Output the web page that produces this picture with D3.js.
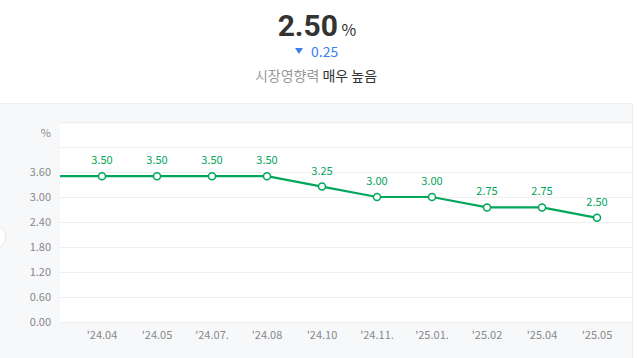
<!DOCTYPE html>
<html>
<head>
<meta charset="utf-8">
<script src="https://cdn.jsdelivr.net/npm/d3@7"></script>
<style>
  body { margin: 0; background: #fff; font-family: "Noto Sans CJK KR", "Noto Sans", sans-serif; }
  svg { display: block; }
</style>
</head>
<body>
<div id="chart"></div>
<script>
// ---- data ----
// first month is scrolled out of view (only its line segment shows)
var months = ["'24.03", "'24.04", "'24.05", "'24.07.", "'24.08", "'24.10", "'24.11.", "'25.01.", "'25.02", "'25.04", "'25.05"];
var rates = [3.50, 3.50, 3.50, 3.50, 3.50, 3.25, 3.00, 3.00, 2.75, 2.75, 2.50];
var yTicks = [0, 0.6, 1.2, 1.8, 2.4, 3.0, 3.6];
var gridTicks = [0, 0.6, 1.2, 1.8, 2.4, 3.0, 3.6, 4.2, 4.8];
var current = "2.50", change = "0.25";

var W = 642, H = 358;
var svg = d3.select("#chart").append("svg").attr("width", W).attr("height", H);

// ---- header ----
var head = svg.append("text").attr("y", 36).attr("text-anchor", "middle").attr("x", 317);
head.append("tspan").text(current)
    .style("font-size", "30px").style("font-weight", "bold").attr("fill", "#333")
    .style("font-family", "Roboto, 'Noto Sans', sans-serif");
head.append("tspan").text(" %").style("font-size", "16px").attr("fill", "#333");

svg.append("path").attr("d", "M295,48 L303,48 L299,54 Z").attr("fill", "#3b7ef0");
svg.append("text").attr("x", 311).attr("y", 57).text(change)
   .style("font-size", "14px").attr("fill", "#3b7ef0");

var sub = svg.append("text").attr("x", 316).attr("y", 81).attr("text-anchor", "middle")
   .style("font-size", "14px");
sub.append("tspan").text("시장영향력 ").attr("fill", "#999");
sub.append("tspan").text("매우 높음").attr("fill", "#333");

// ---- panel ----
svg.append("rect").attr("x", 0).attr("y", 103).attr("width", 632).attr("height", 255)
   .attr("fill", "#f7f8fa");
svg.append("line").attr("x1", 632.5).attr("x2", 632.5).attr("y1", 103).attr("y2", H)
   .attr("stroke", "#eceef1");
svg.append("line").attr("x1", 0).attr("x2", 632).attr("y1", 103.5).attr("y2", 103.5)
   .attr("stroke", "#eceef1");

var m = {left: 60, right: 632, top: 124, bottom: 322};
svg.append("rect").attr("x", m.left).attr("y", m.top)
   .attr("width", m.right - m.left).attr("height", m.bottom - m.top).attr("fill", "#fff");

var y = d3.scaleLinear().domain([0, 4.8]).range([m.bottom, m.top - 2]);
var x = d3.scalePoint().domain(months).range([47, 597]);

svg.append("g").selectAll("line").data(gridTicks).enter().append("line")
   .attr("x1", m.left).attr("x2", m.right)
   .attr("y1", function(d){ return Math.round(y(d)) + 0.5; })
   .attr("y2", function(d){ return Math.round(y(d)) + 0.5; })
   .attr("stroke", "#f0f0f0");

// y axis labels
svg.append("g").selectAll("text").data(yTicks).enter().append("text")
   .attr("x", 51).attr("y", function(d){ return y(d) + 4; })
   .attr("text-anchor", "end").style("font-size", "11px").attr("fill", "#888")
   .text(function(d){ return d3.format(".2f")(d); });
svg.append("text").attr("x", 51).attr("y", 137).attr("text-anchor", "end")
   .style("font-size", "11px").attr("fill", "#888").text("%");

// clip to plot area
svg.append("defs").append("clipPath").attr("id", "plotClip")
   .append("rect").attr("x", m.left).attr("y", 0).attr("width", m.right - m.left).attr("height", H);
var g = svg.append("g").attr("clip-path", "url(#plotClip)");

var visible = months.slice(1);

// x labels
g.selectAll(".xl").data(visible).enter().append("text")
   .attr("x", function(d){ return x(d); }).attr("y", 339)
   .attr("text-anchor", "middle").style("font-size", "11px").attr("fill", "#888")
   .text(function(d){ return d; });

var line = d3.line()
   .x(function(d, i){ return x(months[i]); })
   .y(function(d){ return y(d); });
g.append("path").attr("d", line(rates)).attr("fill", "none")
   .attr("stroke", "#00a65a").attr("stroke-width", 2.2);

g.selectAll("circle").data(rates.slice(1)).enter().append("circle")
   .attr("cx", function(d, i){ return x(visible[i]); })
   .attr("cy", function(d){ return y(d); })
   .attr("r", 3.5).attr("fill", "#fff").attr("stroke", "#00a65a").attr("stroke-width", 1.5);

g.selectAll(".vl").data(rates.slice(1)).enter().append("text")
   .attr("x", function(d, i){ return x(visible[i]); })
   .attr("y", function(d){ return y(d) - 12; })
   .attr("text-anchor", "middle").style("font-size", "11px").attr("fill", "#00a65a")
   .text(function(d){ return d3.format(".2f")(d); });

// scroll button at left edge
svg.append("circle").attr("cx", -6).attr("cy", 237).attr("r", 12)
   .attr("fill", "#fff").attr("stroke", "#e6e6e6");
</script>
</body>
</html>
